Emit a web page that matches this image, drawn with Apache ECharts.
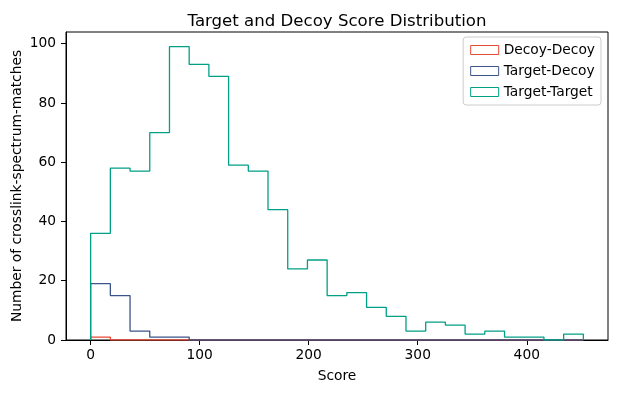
<!DOCTYPE html>
<html>
<head>
<meta charset="utf-8">
<script src="https://cdn.jsdelivr.net/npm/echarts@6/dist/echarts.min.js"></script>
<style>html,body{margin:0;padding:0;background:#fff}#c{width:618px;height:393px}</style>
</head>
<body>
<div id="c"></div>
<script>
// Shared histogram bin edges (score)
const binEdges = [0, 18.08, 36.15, 54.23, 72.3, 90.38, 108.46, 126.53, 144.61, 162.68, 180.76,
  198.84, 216.91, 234.99, 253.06, 271.14, 289.22, 307.29, 325.37, 343.44, 361.52,
  379.6, 397.67, 415.75, 433.82, 451.9];
const seriesNames = ['Decoy-Decoy', 'Target-Decoy', 'Target-Target'];
const decoyDecoy = [1,0,0,0,0,0,0,0,0,0,0,0,0,0,0,0,0,0,0,0,0,0,0,0,0];
const targetDecoy = [19,15,3,1,1,0,0,0,0,0,0,0,0,0,0,0,0,0,0,0,0,0,0,0,0];
const targetTarget = [36,58,57,70,99,93,89,59,57,44,24,27,15,16,11,8,3,6,5,2,3,1,1,0,2];
const xTicks = [0, 100, 200, 300, 400];
const yTicks = [0, 20, 40, 60, 80, 100];
const colors = ['#E64B35', '#3C5488', '#00A087'];

function outline(counts) {
  const pts = [[binEdges[0], 0]];
  for (let i = 0; i < counts.length; i++) {
    pts.push([binEdges[i], counts[i]], [binEdges[i + 1], counts[i]]);
  }
  pts.push([binEdges[counts.length], 0]);
  return pts;
}
const allCounts = [decoyDecoy, targetDecoy, targetTarget];
const maxCount = Math.max(...targetTarget, ...targetDecoy, ...decoyDecoy);
const span = binEdges[binEdges.length - 1] - binEdges[0];

const chart = echarts.init(document.getElementById('c'), null, {renderer: 'canvas'});
const font = 'DejaVu Sans';
const fs = 13.8;
chart.setOption({
  animation: false,
  textStyle: {fontFamily: font},
  title: {
    text: 'Target and Decoy Score Distribution',
    left: 332, top: 8, textAlign: 'center',
    textStyle: {fontFamily: font, fontSize: 16.6, fontWeight: 'normal', color: '#000'}
  },
  grid: {left: 66, right: 10, top: 32, bottom: 53, show: true, borderColor: '#000', borderWidth: 1,
    backgroundColor: 'transparent', containLabel: false, outerBoundsMode: 'none'},
  legend: {
    orient: 'vertical', right: 17, top: 37,
    padding: [6, 6, 6, 7],
    borderColor: '#cccccc', borderWidth: 1, borderRadius: 3,
    itemWidth: 28, itemHeight: 9, itemGap: 7,
    textStyle: {fontFamily: font, fontSize: fs, color: '#000', lineHeight: 14},
    data: seriesNames.map((n, i) => ({name: n, icon: 'rect', itemStyle: {color: 'transparent', borderColor: colors[i], borderWidth: 1}}))
  },
  xAxis: {
    type: 'value',
    min: binEdges[0] - span * 0.05, max: binEdges[binEdges.length - 1] + span * 0.05,
    name: 'Score', nameLocation: 'middle', nameGap: 29, nameMoveOverlap: false,
    nameTextStyle: {fontFamily: font, fontSize: fs, color: '#000'},
    axisLine: {show: true, onZero: false, lineStyle: {color: '#000', width: 1}},
    axisTick: {show: true, inside: false, length: 5, lineStyle: {color: '#000'}, customValues: xTicks},
    axisLabel: {margin: 8, fontFamily: font, fontSize: fs, color: '#000', customValues: xTicks},
    splitLine: {show: false}
  },
  yAxis: {
    type: 'value', min: 0, max: maxCount * 1.05,
    name: 'Number of crosslink-spectrum-matches', nameLocation: 'middle', nameGap: 42, nameMoveOverlap: false,
    nameTextStyle: {fontFamily: font, fontSize: fs, color: '#000'},
    axisLine: {show: true, onZero: false, lineStyle: {color: '#000', width: 1}},
    axisTick: {show: true, inside: false, length: 5, lineStyle: {color: '#000'}, customValues: yTicks},
    axisLabel: {margin: 10, fontFamily: font, fontSize: fs, color: '#000', customValues: yTicks},
    splitLine: {show: false}
  },
  series: allCounts.map((c, i) => ({
    name: seriesNames[i], type: 'line', data: outline(c),
    showSymbol: false, symbol: 'none', clip: true,
    lineStyle: {color: colors[i], width: 1.3},
    itemStyle: {color: colors[i]}
  }))
});
</script>
</body>
</html>
